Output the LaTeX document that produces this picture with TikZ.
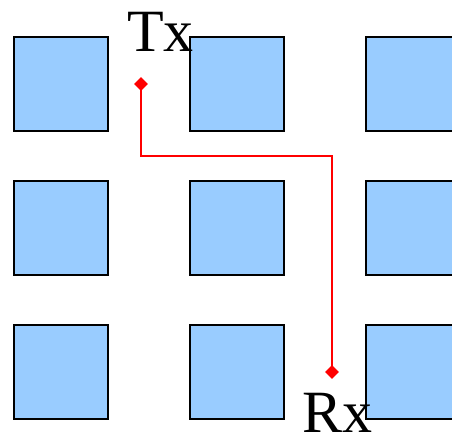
\documentclass[tikz,border=0pt]{standalone}
\usepackage{fontspec}
\setmainfont{Liberation Serif}
\usetikzlibrary{shapes.geometric}
\definecolor{tile}{HTML}{99CCFF}
\begin{document}
\begin{tikzpicture}[x=1pt,y=-1pt,
  tilebox/.style={draw=black,fill=tile,line width=2pt},
  marker/.style={diamond,fill=red,draw=none,inner sep=0pt,minimum width=14pt,minimum height=14pt},
  label/.style={font=\fontsize{60}{60}\selectfont,inner sep=0pt,text depth=0pt,anchor=base west}]
\useasboundingbox (0,0) rectangle (452,438);
\begin{scope}
\clip (0,0) rectangle (452,438);
\foreach \r/\y in {1/37,2/181,3/325}{
  \foreach \c/\x in {1/14,2/190,3/366}{
    \path[tilebox] (\x,\y) rectangle ++(94,94);
  }
}
\end{scope}
\coordinate (txpos) at (141,84);
\coordinate (rxpos) at (332,372);
\coordinate (bend) at (332,156);
\draw[red,line width=1.5pt] (txpos) |- (bend) -- (rxpos);
\node[marker] (txm) at (txpos) {};
\node[marker] (rxm) at (rxpos) {};
\node[label] (tx) at (127,52) {Tx};
\node[label] (rx) at (302,432.5) {Rx};
\end{tikzpicture}
\end{document}
